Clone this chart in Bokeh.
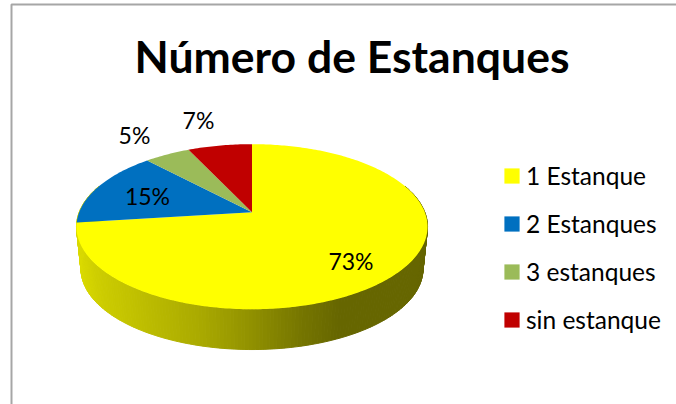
import numpy as np
from bokeh.core.properties import value
from bokeh.embed import file_html
from bokeh.models import Legend, LegendItem, Range1d
from bokeh.plotting import figure
from bokeh.resources import INLINE

title = "Número de Estanques"
categories = ["1 Estanque", "2 Estanques", "3 estanques", "sin estanque"]
percent = [73, 15, 5, 7]
colors = ["#FFFF00", "#0070C0", "#9BBB59", "#C00000"]
label_x = [350.5, 147, 134, 198]
label_y = [260, 195, 134, 119]

# Perspective view of the pie
APEX_X, APEX_Y = 251.5, 211.7
A, B, K = 172.8, 80.0, 0.1758
FLOOR_SCALE, FLOOR_APEX_Y = 0.974, 254.5


def project(theta, radius=1.0, scale=1.0, apex_y=APEX_Y):
    u = radius * np.sin(theta)
    v = radius * np.cos(theta)
    d = 1 + K * v
    return APEX_X + scale * A * u / d, apex_y - scale * B * v / d


def wall_color(x):
    stops_x = [76, 100, 200, 251, 300, 340, 430]
    stops_c = [220, 205, 170, 145, 118, 102, 102]
    c = int(np.interp(x, stops_x, stops_c))
    return f"#{c:02x}{c:02x}00"


p = figure(width=676, height=404, output_backend="svg", toolbar_location=None,
           x_range=Range1d(0, 676), y_range=Range1d(404, 0), min_border=0,
           outline_line_color=None, background_fill_color="white",
           border_fill_color="white")
p.axis.visible = False
p.grid.visible = False

# chart frame: only the left and top sides fall inside the picture
p.line([11, 11, 676], [404, 4, 4], line_color="#a6a6a6", line_width=2)

# side wall
edges = np.radians(np.linspace(70, 290, 221))
xs, ys, cs = [], [], []
for t0, t1 in zip(edges[:-1], edges[1:]):
    x0, y0 = project(t0)
    x1, y1 = project(t1)
    x2, y2 = project(t1, scale=FLOOR_SCALE, apex_y=FLOOR_APEX_Y)
    x3, y3 = project(t0, scale=FLOOR_SCALE, apex_y=FLOOR_APEX_Y)
    xs.append([x0, x1, x2, x3])
    ys.append([y0, y1, y2, y3])
    cs.append(wall_color((x0 + x1 + x2 + x3) / 4))
p.patches(xs, ys, fill_color=cs, line_color=cs, line_width=1)

# top surface
total = sum(percent)
start = 0.0
items = []
for cat, pct, col in zip(categories, percent, colors):
    end = start + pct / total * 2 * np.pi
    th = np.linspace(start, end, max(int(pct * 4), 8))
    x, y = project(th)
    r = p.patch(np.r_[APEX_X, x], np.r_[APEX_Y, y], fill_color=col, line_color=None)
    items.append(LegendItem(label=cat, renderers=[r]))
    start = end

# data labels
p.text(label_x, label_y, text=[f"{v}%" for v in percent], text_font=value("Lato"),
       text_font_size="23px", text_color="black", text_align="center",
       text_baseline="middle")

# title
p.text([351.5], [55], text=[title], text_font=value("Lato"), text_font_style="bold",
       text_font_size="44.5px", text_color="black", text_align="center",
       text_baseline="middle")

legend = Legend(items=items, location=(502, 70), orientation="vertical",
                glyph_width=19, glyph_height=19, label_width=130, label_height=15,
                spacing=19, padding=0, margin=0, label_standoff=5,
                border_line_color=None, background_fill_alpha=0,
                label_text_font="Lato", label_text_font_size="24.5px",
                label_text_color="black", label_text_baseline="middle")
p.add_layout(legend)

open("out.html", "w").write(file_html(p, INLINE))
